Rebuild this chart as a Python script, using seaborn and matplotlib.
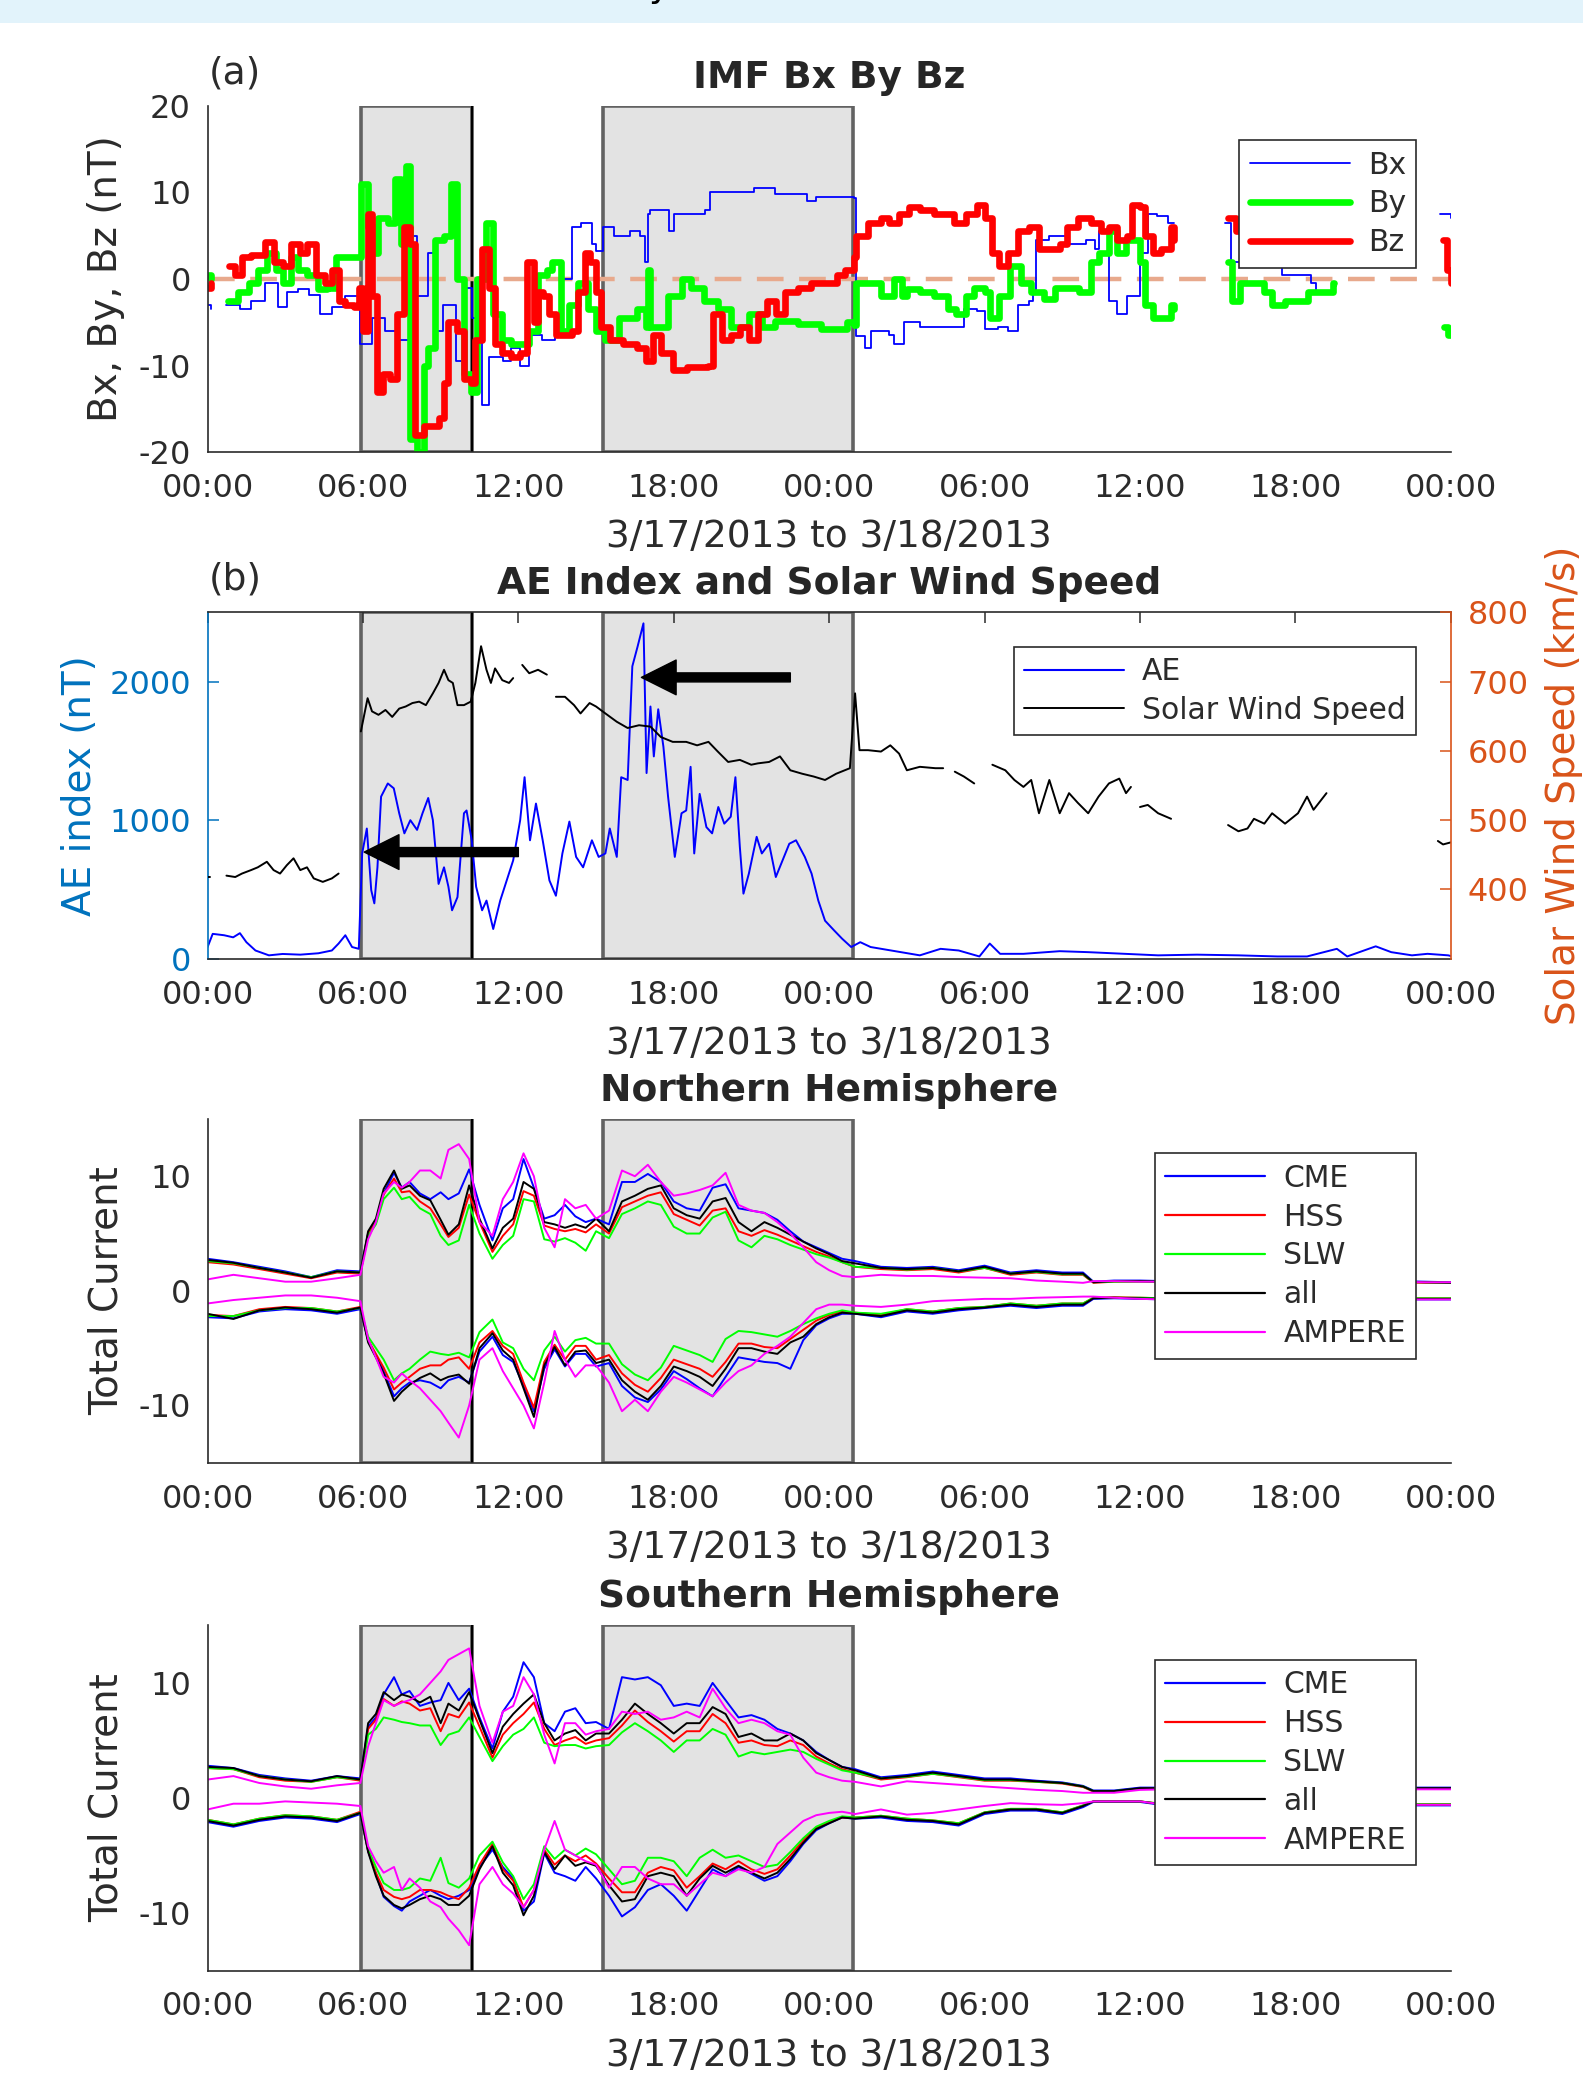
import numpy as np
import pandas as pd
import matplotlib
matplotlib.use("Agg")
import matplotlib.pyplot as plt
import seaborn as sns
from matplotlib.lines import Line2D
from matplotlib.patches import Rectangle

# time axis: hours since 3/17/2013 00:00
TICK_HOURS = [0, 6, 12, 18, 24, 30, 36, 42, 48]
TICK_LABELS = ["00:00", "06:00", "12:00", "18:00", "00:00", "06:00", "12:00", "18:00", "00:00"]
EVENT_WINDOWS = [(5.92, 10.22), (15.28, 24.92)]

# (a) IMF components (hour, nT); None marks a data gap
BX = [(0, -3.0), (0.12, -3.5), (0.3, None), (0.73, -3.0), (1.25, -3.5), (1.68, -2.5), (2.23, -0.5),
      (2.72, -3.2), (3.06, -1.5), (3.5, -1.2), (3.93, -1.8), (4.36, -4.0), (4.8, -3.2), (5.3, -2.0),
      (5.84, -3.0), (5.9, -7.5), (6.35, -4.5), (6.87, -6.0), (7.4, -7.0), (7.8, 5.0), (8.1, -2.0),
      (8.5, 3.0), (8.8, -6.0), (9.1, -3.0), (9.6, -9.5), (9.9, -1.0), (10.2, -4.5), (10.6, -14.5),
      (10.86, -9.0), (11.4, -9.5), (11.7, -8.0), (12.07, -10.0), (12.4, -6.5), (12.9, -7.0),
      (13.4, -6.5), (13.7, 0.0), (14.06, 6.0), (14.4, 6.5), (14.84, 4.0), (15.0, 3.2), (15.27, 6.0),
      (15.7, 5.0), (16.3, 5.5), (16.7, 5.0), (16.9, 2.0), (17.0, 7.5), (17.1, 8.0), (17.8, 5.5),
      (18.0, 7.5), (19.2, 8.0), (19.4, 10.0), (20.0, 10.0), (21.1, 10.5), (21.9, 9.8), (23.15, 9.0),
      (23.5, 9.5), (24.7, 9.5), (24.95, 9.3), (25.05, -6.6), (25.4, -8.0), (25.6, -6.0), (26.3, -6.5),
      (26.5, -7.5), (26.9, -5.0), (27.5, -5.5), (28.05, -5.5), (28.8, -5.5), (29.2, -3.5), (29.7, -3.7),
      (30.03, -5.8), (30.5, -5.5), (30.9, -6.0), (31.3, -3.0), (31.7, -2.5), (31.85, -1.5), (32.0, 4.5),
      (32.5, 5.0), (33.2, 4.0), (33.9, 4.5), (34.25, 3.5), (34.4, 5.5), (34.8, -2.5), (35.1, -4.0),
      (35.5, -2.0), (36.0, 3.0), (36.3, 7.5), (36.66, 7.3), (37.1, 6.5), (37.3, 6.5), (38.0, None),
      (39.3, 6.5), (39.5, 2.0), (40.5, 1.5), (41.5, 0.5), (42.2, 0.5), (42.6, -0.5), (42.8, -1.5),
      (43.2, -1.5), (43.4, -1.5), (45.0, None), (47.6, 7.5), (48.0, 7.0)]

BY = [(0, 0.5), (0.15, 0.0), (0.3, None), (0.8, -2.5), (1.16, -1.5), (1.6, -0.5), (1.94, 1.0), (2.3, 3.0),
      (2.63, 1.0), (2.9, -0.5), (3.24, 2.5), (3.5, 1.0), (3.84, 0.5), (4.28, -1.2), (4.62, -1.0),
      (4.97, 2.5), (5.66, 2.5), (5.92, 11.0), (6.18, 6.0), (6.44, 3.0), (6.6, 7.0), (6.96, 6.5),
      (7.22, 11.5), (7.48, 4.0), (7.65, 13.0), (7.83, -18.5), (8.09, -20.0), (8.35, -10.0), (8.52, -8.0),
      (8.78, 4.5), (9.13, 5.0), (9.39, 11.0), (9.65, 0.0), (9.9, -11.0), (10.16, -13.0), (10.42, 0.0),
      (10.77, 6.5), (11.03, -4.0), (11.38, -7.0), (11.72, -7.5), (12.07, -7.5), (12.42, -6.0),
      (12.76, 0.5), (13.1, 1.0), (13.28, 2.0), (13.63, -6.0), (13.97, -3.0), (14.32, -0.5), (14.67, -3.5),
      (15.0, -6.0), (15.36, -7.0), (15.88, -4.5), (16.57, -3.5), (16.92, -5.5), (17.0, 1.0), (17.1, -5.5),
      (17.26, -5.5), (17.78, -2.0), (18.3, 0.0), (18.65, -1.0), (19.17, -2.5), (19.7, -3.5), (20.2, -5.5),
      (20.9, -4.0), (21.4, -5.5), (21.9, -4.8), (22.8, -5.2), (23.7, -5.8), (24.7, -5.0), (24.95, -5.3),
      (25.05, -0.5), (25.5, -0.5), (26.0, -2.0), (26.5, 0.0), (26.8, -2.0), (27.0, -1.2), (27.5, -1.5),
      (28.05, -2.0), (28.6, -3.5), (28.9, -4.0), (29.3, -2.0), (29.6, -1.0), (30.0, -1.5), (30.2, -4.5),
      (30.55, -2.0), (31.0, 1.5), (31.4, -0.5), (31.8, -1.5), (32.3, -2.3), (32.7, -1.0), (33.2, -1.0),
      (33.65, -1.5), (34.1, 2.0), (34.4, 3.0), (34.8, 5.5), (35.1, 3.0), (35.45, 4.5), (36.0, 2.0),
      (36.2, -3.0), (36.5, -4.5), (36.8, -4.5), (37.2, -3.0), (37.3, -3.5), (38.0, None), (39.4, 2.0),
      (39.55, -2.5), (39.85, -0.5), (40.3, -0.5), (40.8, -1.5), (41.1, -3.0), (41.6, -2.5), (42.0, -2.5),
      (42.5, -1.5), (43.0, -1.5), (43.45, -0.5), (43.5, -0.5), (45.0, None), (47.75, -5.5), (47.9, -6.5),
      (48.0, -6.0)]

BZ = [(0, -1.0), (0.12, -0.5), (0.3, None), (0.81, 1.5), (1.07, 0.5), (1.33, 2.5), (1.68, 2.8), (2.2, 4.3),
      (2.55, 2.0), (2.9, 1.5), (3.24, 4.0), (3.58, 3.0), (3.84, 4.0), (4.19, 0.5), (4.54, -0.5), (4.8, 1.0),
      (5.06, -2.5), (5.32, -3.0), (5.66, -3.2), (5.84, -1.0), (6.0, -6.0), (6.18, 7.5), (6.35, -2.0),
      (6.53, -13.0), (6.79, -11.0), (7.05, -11.5), (7.3, -4.0), (7.57, 6.0), (7.83, 4.0), (8.0, -18.0),
      (8.35, -17.0), (8.7, -17.0), (8.95, -16.0), (9.13, -12.0), (9.3, -5.0), (9.65, -6.0), (9.9, -11.5),
      (10.16, -12.0), (10.34, -7.0), (10.6, 3.5), (10.86, -1.0), (11.1, -7.5), (11.38, -8.5),
      (11.72, -9.0), (12.07, -8.5), (12.33, 2.0), (12.6, -5.0), (12.76, -1.5), (12.94, -2.0), (13.2, -4.0),
      (13.45, -6.5), (13.8, -6.5), (14.06, -6.0), (14.32, -1.5), (14.58, 3.0), (14.75, 2.0), (15.0, -1.5),
      (15.19, -5.5), (15.53, -7.0), (16.05, -7.5), (16.57, -8.0), (16.92, -9.5), (17.18, -6.5),
      (17.5, -8.5), (17.96, -10.5), (18.5, -10.2), (19.0, -10.2), (19.34, -10.0), (19.5, -4.0),
      (19.86, -7.0), (20.2, -6.5), (20.55, -5.5), (20.9, -7.0), (21.25, -4.0), (21.6, -2.5), (21.94, -4.0),
      (22.3, -1.5), (22.8, -1.0), (23.3, -0.5), (23.9, -0.5), (24.3, 0.5), (24.6, 1.0), (24.95, 2.5),
      (25.05, 5.0), (25.2, 5.0), (25.5, 6.5), (26.0, 7.0), (26.3, 6.5), (26.7, 7.5), (27.1, 8.3),
      (27.5, 8.0), (28.05, 7.5), (28.4, 7.5), (28.8, 6.5), (29.3, 7.5), (29.7, 8.5), (30.03, 7.0),
      (30.3, 3.0), (30.55, 1.5), (30.9, 3.0), (31.3, 5.5), (31.7, 6.0), (32.1, 3.5), (32.45, 3.5),
      (32.9, 4.0), (33.2, 6.0), (33.6, 7.0), (34.1, 6.5), (34.5, 5.5), (34.8, 6.0), (35.1, 4.5),
      (35.5, 5.0), (35.7, 8.5), (36.0, 8.3), (36.2, 5.0), (36.5, 3.0), (36.8, 3.5), (37.2, 6.0),
      (37.3, 4.5), (38.0, None), (39.4, 7.0), (39.7, 5.5), (40.5, 6.0), (41.5, 6.5), (42.5, 6.0),
      (43.5, 5.5), (45.0, None), (47.7, 4.5), (47.85, 1.0), (48.0, -0.5)]

# (b) AE index (nT) and solar wind speed (km/s)
AE = [(0, 84), (0.2, 180), (0.64, 170), (0.99, 155), (1.25, 185), (1.5, 120), (1.85, 60), (2.37, 25),
      (2.9, 35), (3.58, 30), (4.28, 40), (4.8, 60), (5.06, 110), (5.32, 170), (5.58, 85), (5.84, 72),
      (5.97, 760), (6.15, 940), (6.32, 495), (6.44, 400), (6.56, 660), (6.7, 1170), (6.96, 1265),
      (7.19, 1230), (7.4, 1050), (7.6, 905), (7.83, 1000), (8.09, 930), (8.3, 1050), (8.52, 1160),
      (8.7, 1000), (8.92, 540), (9.13, 660), (9.3, 520), (9.44, 350), (9.65, 445), (9.9, 1050),
      (10.0, 1070), (10.2, 855), (10.37, 520), (10.6, 350), (10.77, 420), (11.03, 215), (11.3, 420),
      (11.55, 565), (11.8, 710), (12.07, 1000), (12.24, 1310), (12.45, 855), (12.68, 1120), (12.94, 855),
      (13.2, 565), (13.45, 455), (13.7, 760), (13.97, 990), (14.23, 735), (14.5, 660), (14.84, 855),
      (15.1, 735), (15.36, 760), (15.53, 940), (15.8, 735), (15.97, 1310), (16.22, 1290), (16.4, 2110),
      (16.6, 2250), (16.83, 2420), (16.95, 1340), (17.1, 1820), (17.23, 1460), (17.4, 1800), (17.6, 1530),
      (17.78, 1170), (18.04, 735), (18.3, 1050), (18.48, 1070), (18.65, 1385), (18.79, 760), (19.0, 1190),
      (19.26, 950), (19.48, 905), (19.72, 1095), (19.95, 975), (20.2, 1025), (20.38, 1310), (20.55, 810),
      (20.69, 470), (20.9, 615), (21.2, 880), (21.4, 760), (21.68, 830), (21.94, 590), (22.2, 710),
      (22.46, 830), (22.72, 855), (23.06, 735), (23.32, 615), (23.58, 420), (23.84, 275), (24.19, 205),
      (24.5, 145), (24.85, 85), (25.2, 120), (25.6, 85), (26.4, 60), (27.5, 25), (28.3, 72), (29.0, 60),
      (29.8, 17), (30.2, 110), (30.6, 36), (31.5, 36), (32.9, 55), (34.0, 48), (35.4, 36), (36.7, 25),
      (38.2, 30), (39.8, 25), (41.3, 17), (42.45, 17), (43.6, 72), (44.0, 17), (45.1, 90), (45.7, 48),
      (46.5, 25), (47.1, 36), (47.9, 25), (48.0, 20)]

SW_SPEED = [(0, 418), (0.1, 418), (0.4, None), (0.73, 420), (1.07, 418), (1.33, 423), (1.68, 428),
            (1.94, 432), (2.29, 440), (2.55, 428), (2.8, 423), (3.06, 435), (3.32, 445), (3.58, 428),
            (3.84, 432), (4.1, 416), (4.45, 411), (4.8, 416), (5.06, 423), (5.5, None), (5.92, 628),
            (6.18, 676), (6.35, 657), (6.6, 652), (6.87, 659), (7.13, 649), (7.4, 661), (7.65, 664),
            (7.91, 669), (8.17, 671), (8.43, 666), (8.7, 683), (8.92, 698), (9.13, 717), (9.3, 702),
            (9.47, 698), (9.65, 666), (9.9, 666), (10.16, 671), (10.34, 698), (10.56, 751), (10.77, 717),
            (10.94, 698), (11.1, 719), (11.38, 702), (11.64, 698), (11.8, 705), (11.9, None), (12.15, 724),
            (12.42, 712), (12.76, 717), (13.1, 710), (13.3, None), (13.45, 678), (13.8, 678), (14.15, 666),
            (14.4, 654), (14.75, 669), (15.0, 664), (15.36, 654), (15.8, 642), (16.22, 633), (16.66, 637),
            (17.1, 635), (17.5, 620), (17.96, 613), (18.48, 613), (18.9, 608), (19.34, 613), (19.7, 599),
            (20.1, 584), (20.55, 587), (20.99, 580), (21.25, 582), (21.68, 584), (22.1, 592), (22.5, 572),
            (22.96, 567), (23.4, 563), (23.84, 558), (24.27, 567), (24.8, 575), (25.0, 683), (25.17, 601),
            (25.5, 601), (26.0, 599), (26.36, 608), (26.7, 596), (27.0, 572), (27.5, 577), (28.1, 575),
            (28.4, 575), (28.6, None), (28.85, 570), (29.2, 563), (29.6, 553), (29.9, None), (30.3, 580),
            (30.8, 572), (31.15, 558), (31.5, 548), (31.8, 558), (32.1, 510), (32.5, 558), (32.9, 510),
            (33.26, 539), (33.6, 525), (34.0, 510), (34.4, 534), (34.8, 553), (35.2, 560), (35.46, 539),
            (35.65, 548), (35.8, None), (36.0, 519), (36.3, 522), (36.7, 510), (37.2, 502), (38.0, None),
            (39.4, 493), (39.8, 484), (40.15, 488), (40.4, 502), (40.8, 495), (41.1, 510), (41.6, 495),
            (42.1, 510), (42.45, 534), (42.7, 515), (43.2, 539), (45.0, None), (47.5, 470), (47.7, 465),
            (48.0, 468)]

# arrows in panel (b): (tail hour, AE), (head hour, AE)
ARROWS = [((12.0, 770), (6.05, 770)), ((22.5, 2030), (16.75, 2030))]

# (c), (d) total currents, common time grid (hours)
CUR_TIME = [0, 1, 2, 3, 4, 5, 5.9,
            6.2, 6.5, 6.8, 7.2, 7.5, 7.8, 8.2, 8.6, 9.0, 9.3, 9.7, 10.1, 10.5,
            11.0, 11.4, 11.8, 12.2, 12.6, 13.0, 13.4, 13.8, 14.2, 14.6, 15.0,
            15.5, 16.0, 16.5, 17.0, 17.5, 18.0, 18.5, 19.0, 19.5, 20.0,
            20.5, 21.0, 21.5, 22.0, 22.5, 23.0, 23.5, 24.0, 24.5, 25.0,
            26, 27, 28, 29, 30, 31, 32, 33, 33.8, 34.2, 35, 36,
            37, 38, 39, 40, 41, 42, 43, 44, 45, 46, 47, 48]

# Northern Hemisphere
N_CME_POS = [2.8, 2.5, 2.1, 1.7, 1.2, 1.8, 1.7,
             5.0, 6.0, 8.5, 10.3, 9.0, 9.5, 8.5, 8.0, 8.6, 8.0, 8.5, 10.6, 7.5,
             4.4, 7.2, 8.0, 11.5, 9.0, 6.3, 6.6, 7.5, 6.5, 6.0, 6.3,
             5.8, 9.5, 9.5, 10.2, 9.5, 7.8, 7.2, 7.0, 9.0, 9.3,
             7.2, 7.0, 6.8, 6.2, 5.2, 4.3, 3.8, 3.3, 2.8, 2.6,
             2.1, 2.0, 2.1, 1.8, 2.2, 1.6, 1.8, 1.6, 1.6, 0.8, 0.9, 0.9,
             0.85, 0.85, 0.85, 0.85, 0.85, 0.85, 0.85, 0.85, 0.85, 0.85, 0.8, 0.75]
N_HSS_POS = [2.5, 2.3, 1.9, 1.5, 1.1, 1.6, 1.5,
             5.0, 6.0, 8.4, 9.8, 8.6, 8.7, 7.8, 7.2, 5.8, 4.7, 5.5, 8.4, 6.0,
             3.4, 4.8, 5.8, 8.7, 8.3, 5.7, 5.4, 5.2, 5.4, 5.1, 5.8,
             5.0, 7.3, 7.8, 8.3, 8.6, 6.7, 6.2, 5.7, 7.0, 7.2,
             5.2, 4.8, 5.3, 4.9, 4.4, 3.9, 3.4, 3.0, 2.5, 2.1,
             1.9, 1.8, 1.9, 1.6, 2.0, 1.4, 1.6, 1.4, 1.4, 0.7, 0.8, 0.8,
             0.75, 0.75, 0.75, 0.75, 0.75, 0.75, 0.75, 0.75, 0.75, 0.75, 0.7, 0.7]
N_SLW_POS = [2.6, 2.4, 2.0, 1.6, 1.2, 1.7, 1.6,
             4.8, 5.8, 8.0, 9.0, 8.0, 8.2, 7.2, 6.7, 4.8, 4.0, 4.4, 7.5, 5.0,
             2.8, 4.0, 4.8, 8.0, 7.8, 4.5, 4.3, 4.6, 4.2, 3.5, 5.2,
             4.6, 6.7, 7.2, 7.8, 7.5, 5.6, 5.0, 5.0, 6.4, 6.9,
             4.4, 3.8, 4.8, 4.5, 4.0, 3.6, 3.2, 2.9, 2.5, 2.1,
             2.0, 1.85, 2.0, 1.7, 2.0, 1.5, 1.65, 1.45, 1.45, 0.75, 0.8, 0.8,
             0.8, 0.8, 0.8, 0.8, 0.8, 0.8, 0.8, 0.8, 0.8, 0.8, 0.75, 0.7]
N_ALL_POS = [2.7, 2.45, 2.0, 1.6, 1.15, 1.7, 1.6,
             5.2, 6.3, 8.9, 10.5, 8.9, 9.2, 8.3, 7.9, 6.2, 4.9, 5.8, 9.2, 6.3,
             3.7, 5.5, 6.3, 9.5, 8.9, 6.0, 5.8, 5.5, 5.8, 5.5, 6.3,
             5.2, 7.8, 8.3, 8.9, 9.2, 7.2, 6.6, 6.3, 7.8, 8.1,
             6.0, 5.2, 6.0, 5.5, 4.9, 4.3, 3.7, 3.2, 2.6, 2.4,
             2.0, 1.9, 2.0, 1.7, 2.1, 1.5, 1.7, 1.5, 1.5, 0.75, 0.85, 0.85,
             0.8, 0.8, 0.8, 0.8, 0.8, 0.8, 0.8, 0.8, 0.8, 0.8, 0.75, 0.7]
N_AMP_POS = [1.0, 1.4, 1.1, 0.8, 0.8, 1.1, 1.4,
             4.5, 6.0, 8.5, 9.5, 9.0, 9.5, 10.5, 10.5, 9.8, 12.3, 12.8, 11.5, 6.0,
             4.8, 8.0, 9.5, 12.0, 10.0, 5.5, 3.8, 8.0, 7.2, 7.5, 6.3,
             7.0, 10.5, 10.0, 11.0, 9.5, 8.3, 8.5, 8.8, 9.2, 10.3,
             7.5, 7.0, 6.8, 6.0, 5.0, 3.8, 2.5, 1.8, 1.3, 1.2,
             1.4, 1.3, 1.3, 1.2, 1.15, 1.1, 0.9, 0.8, 0.7, 0.85, 0.85, 0.8,
             0.8, 0.8, 0.8, 0.8, 0.8, 0.8, 0.8, 0.8, 0.8, 0.8, 0.75, 0.75]
N_CME_NEG = [-2.3, -2.4, -1.8, -1.6, -1.7, -2.0, -1.6,
             -4.3, -5.6, -7.0, -9.2, -8.5, -8.0, -7.8, -8.0, -8.5, -7.8, -7.5, -8.0, -5.3,
             -4.0, -5.6, -6.2, -8.3, -10.5, -6.8, -5.1, -6.6, -5.5, -5.5, -6.6,
             -6.3, -8.3, -9.3, -9.7, -8.6, -7.0, -7.7, -8.5, -9.2, -7.5,
             -5.8, -6.0, -6.2, -6.3, -6.8, -4.3, -3.0, -2.4, -2.0, -2.0,
             -2.3, -1.8, -2.0, -1.7, -1.5, -1.3, -1.5, -1.3, -1.3, -0.7, -0.65, -0.7,
             -0.75, -0.75, -0.75, -0.75, -0.75, -0.75, -0.75, -0.75, -0.75, -0.75, -0.75, -0.75]
N_HSS_NEG = [-2.1, -2.2, -1.6, -1.4, -1.5, -1.8, -1.4,
             -4.3, -5.5, -6.7, -8.6, -8.0, -7.5, -6.8, -6.5, -6.5, -6.0, -5.8, -6.8, -4.5,
             -3.5, -4.8, -5.5, -8.0, -10.2, -6.2, -4.7, -6.0, -4.8, -4.8, -6.0,
             -5.6, -7.2, -8.2, -8.8, -7.6, -6.0, -6.4, -6.8, -7.5, -6.2,
             -4.6, -4.6, -4.9, -5.0, -4.2, -3.4, -2.6, -2.1, -1.8, -1.9,
             -2.1, -1.6, -1.8, -1.5, -1.4, -1.1, -1.3, -1.1, -1.1, -0.6, -0.55, -0.6,
             -0.65, -0.65, -0.65, -0.65, -0.65, -0.65, -0.65, -0.65, -0.65, -0.65, -0.65, -0.65]
N_SLW_NEG = [-2.2, -2.2, -1.7, -1.5, -1.5, -1.8, -1.5,
             -4.0, -5.0, -6.0, -7.8, -7.2, -6.8, -6.0, -5.3, -5.5, -5.6, -5.4, -5.8, -3.6,
             -2.5, -4.5, -5.0, -6.8, -7.8, -5.2, -4.0, -5.3, -4.3, -4.1, -4.6,
             -4.6, -6.4, -7.3, -7.8, -6.7, -4.8, -5.2, -5.6, -6.2, -4.2,
             -3.5, -3.6, -3.8, -4.0, -3.5, -2.9, -2.4, -2.0, -1.7, -1.9,
             -2.0, -1.6, -1.8, -1.5, -1.4, -1.1, -1.3, -1.1, -1.1, -0.6, -0.6, -0.6,
             -0.65, -0.65, -0.65, -0.65, -0.65, -0.65, -0.65, -0.65, -0.65, -0.65, -0.65, -0.65]
N_ALL_NEG = [-2.0, -2.45, -1.7, -1.45, -1.6, -1.9, -1.45,
             -4.5, -5.8, -7.2, -9.6, -8.8, -8.2, -7.6, -7.2, -7.8, -7.5, -7.3, -8.1, -5.0,
             -3.7, -5.2, -6.0, -8.5, -11.0, -6.5, -4.9, -6.5, -5.3, -5.2, -6.3,
             -6.0, -7.8, -8.8, -9.5, -8.3, -6.6, -7.0, -7.5, -8.3, -6.8,
             -5.0, -5.0, -5.3, -5.5, -4.5, -4.0, -2.9, -2.3, -1.9, -2.0,
             -2.2, -1.7, -1.9, -1.6, -1.45, -1.2, -1.4, -1.2, -1.2, -0.65, -0.6, -0.65,
             -0.7, -0.7, -0.7, -0.7, -0.7, -0.7, -0.7, -0.7, -0.7, -0.7, -0.7, -0.7]
N_AMP_NEG = [-1.1, -0.8, -0.6, -0.4, -0.4, -0.6, -0.9,
             -4.2, -5.8, -7.5, -8.0, -7.2, -7.8, -8.5, -9.5, -10.5, -11.5, -12.8, -10.0, -6.0,
             -5.0, -7.0, -8.5, -10.0, -12.0, -8.0, -3.5, -6.0, -7.5, -6.5, -6.5,
             -8.0, -10.5, -9.5, -10.5, -8.8, -7.5, -8.0, -8.6, -9.2, -8.0,
             -7.0, -6.5, -5.5, -4.8, -4.0, -2.8, -1.6, -1.2, -1.2, -1.3,
             -1.4, -1.2, -0.9, -0.8, -0.7, -0.7, -0.6, -0.55, -0.5, -0.5, -0.6, -0.7,
             -0.75, -0.75, -0.75, -0.75, -0.75, -0.75, -0.75, -0.75, -0.75, -0.75, -0.75, -0.75]

# Southern Hemisphere
S_CME_POS = [2.8, 2.6, 2.0, 1.7, 1.5, 1.9, 1.7,
             6.2, 7.0, 9.0, 10.5, 9.0, 9.3, 8.0, 8.3, 8.5, 10.0, 8.5, 9.5, 7.0,
             4.3, 7.5, 8.8, 11.8, 10.5, 6.5, 5.8, 7.5, 7.8, 6.5, 6.6,
             6.0, 10.5, 10.3, 10.5, 9.8, 8.0, 8.2, 8.0, 10.0, 8.5,
             7.0, 7.2, 6.8, 6.0, 5.6, 5.0, 4.0, 3.3, 2.7, 2.5,
             1.8, 2.0, 2.3, 2.0, 1.7, 1.7, 1.5, 1.35, 1.05, 0.65, 0.65, 0.9,
             0.9, 0.9, 0.9, 0.9, 0.9, 0.9, 0.9, 0.9, 0.9, 0.9, 0.9, 0.9]
S_HSS_POS = [2.6, 2.5, 1.8, 1.5, 1.4, 1.8, 1.5,
             6.0, 6.8, 8.6, 8.0, 8.4, 8.2, 7.6, 7.8, 5.8, 7.3, 7.0, 8.3, 6.2,
             3.5, 5.5, 6.5, 7.3, 8.3, 6.0, 4.6, 5.0, 5.3, 4.7, 5.0,
             5.2, 6.3, 7.6, 6.6, 5.8, 4.9, 5.8, 5.8, 7.3, 6.5,
             4.8, 5.0, 4.6, 4.5, 5.0, 4.6, 3.6, 3.0, 2.5, 2.2,
             1.6, 1.8, 2.1, 1.8, 1.5, 1.5, 1.4, 1.25, 0.95, 0.55, 0.55, 0.8,
             0.8, 0.8, 0.8, 0.8, 0.8, 0.8, 0.8, 0.8, 0.8, 0.8, 0.8, 0.8]
S_SLW_POS = [2.6, 2.5, 1.9, 1.6, 1.4, 1.8, 1.6,
             5.5, 6.0, 7.0, 6.8, 6.6, 6.5, 6.3, 6.3, 4.6, 5.5, 5.8, 7.0, 5.3,
             3.2, 4.5, 5.5, 6.0, 7.0, 4.8, 4.5, 4.6, 4.6, 4.3, 4.5,
             4.6, 5.7, 6.5, 5.8, 5.0, 4.0, 5.0, 5.0, 6.0, 5.5,
             3.6, 4.0, 3.8, 4.0, 4.2, 4.0, 3.4, 2.9, 2.4, 2.2,
             1.7, 1.85, 2.1, 1.85, 1.55, 1.55, 1.4, 1.3, 1.0, 0.6, 0.6, 0.8,
             0.8, 0.8, 0.8, 0.8, 0.8, 0.8, 0.8, 0.8, 0.8, 0.8, 0.8, 0.8]
S_ALL_POS = [2.7, 2.6, 1.9, 1.6, 1.45, 1.9, 1.6,
             6.5, 7.3, 9.2, 8.5, 9.0, 8.8, 8.3, 8.8, 6.5, 8.2, 7.6, 9.2, 6.8,
             3.9, 6.2, 7.3, 8.2, 9.0, 6.5, 5.0, 5.6, 5.9, 5.0, 5.6,
             5.6, 6.8, 8.2, 7.3, 6.5, 5.6, 6.5, 6.5, 7.9, 7.3,
             5.3, 5.6, 5.0, 5.0, 5.6, 5.0, 3.9, 3.3, 2.7, 2.4,
             1.7, 1.9, 2.2, 1.9, 1.6, 1.6, 1.45, 1.3, 1.0, 0.6, 0.6, 0.85,
             0.85, 0.85, 0.85, 0.85, 0.85, 0.85, 0.85, 0.85, 0.85, 0.85, 0.85, 0.85]
S_AMP_POS = [1.6, 1.9, 1.3, 1.0, 0.8, 1.1, 1.3,
             4.5, 6.5, 8.5, 8.0, 8.3, 8.5, 9.0, 10.0, 11.0, 12.0, 12.5, 13.0, 8.0,
             4.8, 7.5, 8.0, 10.5, 9.0, 5.5, 3.0, 6.5, 6.5, 5.5, 5.8,
             6.0, 7.5, 7.3, 7.5, 6.8, 7.0, 7.5, 7.0, 9.5, 7.8,
             6.5, 6.8, 6.5, 5.8, 5.5, 3.5, 2.2, 1.8, 1.5, 1.4,
             1.0, 1.45, 1.3, 1.15, 1.0, 0.85, 0.7, 0.6, 0.45, 0.45, 0.45, 0.7,
             0.75, 0.75, 0.75, 0.75, 0.75, 0.75, 0.75, 0.75, 0.75, 0.75, 0.75, 0.75]
S_CME_NEG = [-2.1, -2.5, -2.0, -1.7, -1.8, -2.1, -1.4,
             -4.6, -6.6, -8.6, -9.4, -9.8, -9.0, -8.5, -8.0, -8.5, -8.8, -8.5, -8.0, -6.0,
             -4.5, -6.0, -7.0, -9.8, -9.0, -4.8, -6.5, -6.8, -7.2, -6.0, -7.0,
             -8.5, -10.3, -9.5, -8.0, -7.5, -8.5, -9.8, -8.0, -6.2, -6.8,
             -6.0, -6.6, -7.2, -6.8, -5.5, -4.0, -2.8, -2.2, -1.7, -1.8,
             -1.7, -2.0, -2.1, -2.4, -1.4, -1.1, -1.1, -1.4, -0.8, -0.35, -0.35, -0.35,
             -0.65, -0.65, -0.65, -0.65, -0.65, -0.65, -0.65, -0.65, -0.65, -0.65, -0.65, -0.65]
S_HSS_NEG = [-1.9, -2.3, -1.8, -1.5, -1.6, -1.9, -1.2,
             -4.6, -6.5, -8.0, -8.6, -8.8, -8.6, -8.0, -8.0, -8.2, -8.5, -8.8, -7.8, -5.8,
             -4.0, -6.2, -7.2, -9.5, -8.0, -4.5, -5.8, -5.0, -5.5, -5.0, -5.7,
             -7.0, -8.2, -8.2, -6.5, -6.0, -6.3, -7.8, -6.8, -5.7, -6.2,
             -5.5, -6.2, -6.6, -6.2, -5.0, -3.7, -2.6, -2.1, -1.7, -1.7,
             -1.55, -1.8, -1.95, -2.2, -1.25, -0.95, -0.95, -1.25, -0.65, -0.3, -0.3, -0.3,
             -0.55, -0.55, -0.55, -0.55, -0.55, -0.55, -0.55, -0.55, -0.55, -0.55, -0.55, -0.55]
S_SLW_NEG = [-1.9, -2.3, -1.8, -1.5, -1.6, -1.9, -1.3,
             -4.4, -6.0, -7.4, -8.0, -8.0, -7.8, -7.0, -7.2, -5.2, -7.4, -7.8, -7.0, -5.0,
             -3.8, -5.6, -6.8, -8.8, -7.5, -4.2, -5.3, -4.5, -5.0, -4.4, -4.9,
             -6.2, -7.5, -7.2, -5.2, -5.2, -5.5, -6.8, -5.2, -4.5, -5.2,
             -5.0, -5.5, -6.0, -5.8, -4.7, -3.5, -2.5, -2.0, -1.6, -1.7,
             -1.55, -1.8, -1.95, -2.2, -1.25, -0.95, -0.95, -1.25, -0.65, -0.3, -0.3, -0.3,
             -0.55, -0.55, -0.55, -0.55, -0.55, -0.55, -0.55, -0.55, -0.55, -0.55, -0.55, -0.55]
S_ALL_NEG = [-2.0, -2.4, -1.9, -1.6, -1.7, -2.0, -1.3,
             -4.7, -6.8, -8.5, -9.3, -9.6, -9.3, -8.8, -8.5, -8.8, -9.3, -9.3, -8.5, -6.2,
             -4.2, -6.5, -7.6, -10.2, -8.5, -4.7, -6.2, -5.0, -5.9, -5.6, -5.9,
             -7.6, -9.0, -8.8, -6.8, -6.5, -6.8, -8.5, -7.0, -5.9, -6.5,
             -5.9, -6.5, -7.0, -6.5, -5.3, -3.9, -2.7, -2.2, -1.7, -1.8,
             -1.6, -1.9, -2.0, -2.3, -1.3, -1.0, -1.0, -1.3, -0.7, -0.3, -0.3, -0.3,
             -0.6, -0.6, -0.6, -0.6, -0.6, -0.6, -0.6, -0.6, -0.6, -0.6, -0.6, -0.6]
S_AMP_NEG = [-1.0, -0.5, -0.5, -0.3, -0.4, -0.5, -0.7,
             -4.2, -5.5, -6.5, -6.0, -8.0, -7.0, -7.8, -9.0, -9.5, -10.5, -11.5, -12.8, -7.5,
             -6.0, -7.5, -8.3, -9.5, -8.0, -4.5, -2.0, -4.5, -5.0, -5.5, -5.8,
             -7.8, -6.0, -6.0, -7.0, -7.5, -7.5, -8.5, -7.5, -6.5, -6.8,
             -6.2, -6.5, -6.0, -4.0, -3.0, -2.0, -1.5, -1.3, -1.2, -1.4,
             -1.0, -1.45, -1.3, -1.0, -0.7, -0.45, -0.55, -0.6, -0.45, -0.3, -0.3, -0.3,
             -0.6, -0.6, -0.6, -0.6, -0.6, -0.6, -0.6, -0.6, -0.6, -0.6, -0.6, -0.6]

MODELS = ["CME", "HSS", "SLW", "all", "AMPERE"]
MODEL_COLORS = {"CME": "#0000ff", "HSS": "#ff0000", "SLW": "#00ff00", "all": "#000000", "AMPERE": "#ff00ff"}
NORTH = {"CME": (N_CME_POS, N_CME_NEG), "HSS": (N_HSS_POS, N_HSS_NEG), "SLW": (N_SLW_POS, N_SLW_NEG),
         "all": (N_ALL_POS, N_ALL_NEG), "AMPERE": (N_AMP_POS, N_AMP_NEG)}
SOUTH = {"CME": (S_CME_POS, S_CME_NEG), "HSS": (S_HSS_POS, S_HSS_NEG), "SLW": (S_SLW_POS, S_SLW_NEG),
         "all": (S_ALL_POS, S_ALL_NEG), "AMPERE": (S_AMP_POS, S_AMP_NEG)}

TXT = "#2b2b2b"
AE_BLUE = "#0072BD"
SW_ORANGE = "#D95319"
TICK_FS = 23
LABEL_FS = 27
YLABEL_FS = 28
TITLE_FS = 27
LEGEND_FS = 21.5

sns.set_style("white")
plt.rcParams["font.family"] = ["DejaVu Sans"]
plt.rcParams["axes.unicode_minus"] = False


def series_frame(pairs):
    df = pd.DataFrame(pairs, columns=["t", "v"]).astype(float)
    df["seg"] = df["v"].isna().cumsum()
    return df.dropna()


def draw_series(ax, pairs, color, lw, steps=True, z=2):
    kw = {"drawstyle": "steps-post"} if steps else {}
    sns.lineplot(data=series_frame(pairs), x="t", y="v", units="seg", estimator=None,
                 color=color, linewidth=lw, ax=ax, legend=False, zorder=z, **kw)


def shade_events(ax):
    for t0, t1 in EVENT_WINDOWS:
        ax.axvspan(t0, t1, facecolor="#e3e3e3", edgecolor="#626262", lw=2.6, zorder=0)
    ax.axvline(EVENT_WINDOWS[0][1], color="black", lw=1.6, zorder=0.5)


def style_time_axis(ax, box=False):
    ax.set_xlim(0, 48)
    ax.set_xticks(TICK_HOURS)
    ax.set_xticklabels(TICK_LABELS)
    ax.tick_params(axis="both", direction="in", length=8, width=1.1, labelsize=TICK_FS,
                   colors=TXT, pad=15)
    ax.tick_params(axis="y", pad=12)
    ax.tick_params(axis="x", top=box)
    ax.set_xlabel("3/17/2013 to 3/18/2013", fontsize=LABEL_FS, color=TXT, labelpad=11)
    for side in ["left", "bottom", "top", "right"]:
        ax.spines[side].set_color(TXT)
        ax.spines[side].set_linewidth(1.2)
    if not box:
        ax.spines["top"].set_visible(False)
        ax.spines["right"].set_visible(False)


def make_legend(ax, handles, labels, top):
    leg = ax.legend(handles, labels, loc="upper right", bbox_to_anchor=(0.9723, top),
                    borderaxespad=0, fontsize=LEGEND_FS, frameon=True, fancybox=False, framealpha=1,
                    edgecolor=TXT, handlelength=3.35, handletextpad=0.6, labelspacing=0.33,
                    borderpad=0.35)
    leg.get_frame().set_linewidth(1.2)
    for t in leg.get_texts():
        t.set_color(TXT)
    leg.set_zorder(10)
    return leg


fig = plt.figure(figsize=(15.83, 20.74), dpi=100)
fig.patches.append(Rectangle((0, 1 - 23 / 2074), 1, 23 / 2074, transform=fig.transFigure,
                             facecolor="#e2f3fb", edgecolor="none", zorder=0))
fig.text(660 / 1583, 1 + 3 / 2074, "y", fontsize=26, ha="center", va="baseline", color="black")

L, W = 0.1311, 0.7854

# ---------------- (a) IMF ----------------
ax_a = fig.add_axes([L, 0.7819, W, 0.1671])
shade_events(ax_a)
ax_a.axhline(0, color="#e8a98c", lw=3.2, dashes=(6, 3.5), zorder=1)
draw_series(ax_a, BX, "#0000ff", 1.3)
draw_series(ax_a, BY, "#00ff00", 4.8)
draw_series(ax_a, BZ, "#ff0000", 4.8)
style_time_axis(ax_a)
ax_a.set_ylim(-20, 20)
ax_a.set_yticks([-20, -10, 0, 10, 20])
ax_a.set_ylabel("Bx, By, Bz (nT)", fontsize=YLABEL_FS, color=TXT)
ax_a.yaxis.set_label_coords(-0.066, 0.5)
ax_a.set_title("IMF Bx By Bz", fontsize=TITLE_FS, fontweight="bold", pad=13)
ax_a.text(0.022, 1.094, "(a)", transform=ax_a.transAxes, fontsize=TITLE_FS, ha="center", va="center", color=TXT)
make_legend(ax_a,
            [Line2D([], [], color="#0000ff", lw=1.3), Line2D([], [], color="#00ff00", lw=4.8),
             Line2D([], [], color="#ff0000", lw=4.8)],
            ["Bx", "By", "Bz"], 0.901)

# ---------------- (b) AE and solar wind ----------------
ax_b = fig.add_axes([L, 0.5377, W, 0.1671])
shade_events(ax_b)
draw_series(ax_b, AE, "#0000ff", 1.4, steps=False)
style_time_axis(ax_b, box=True)
ax_b.set_ylim(0, 2500)
ax_b.set_yticks([0, 1000, 2000])
ax_b.tick_params(axis="y", colors=AE_BLUE)
ax_b.spines["left"].set_color(AE_BLUE)
ax_b.spines["right"].set_visible(False)
ax_b.set_ylabel("AE index (nT)", fontsize=YLABEL_FS, color=AE_BLUE)
ax_b.yaxis.set_label_coords(-0.087, 0.5)
ax_b.set_title("AE Index and Solar Wind Speed", fontsize=TITLE_FS, fontweight="bold", pad=13)
ax_b.text(0.022, 1.094, "(b)", transform=ax_b.transAxes, fontsize=TITLE_FS, ha="center", va="center", color=TXT)
for (t0, v0), (t1, v1) in ARROWS:
    ax_b.annotate("", xy=(t1, v1), xytext=(t0, v0),
                  arrowprops=dict(facecolor="black", edgecolor="black", width=6.5,
                                  headwidth=25, headlength=25, shrink=0), zorder=6)

ax_s = ax_b.twinx()
draw_series(ax_s, SW_SPEED, "black", 1.4, steps=False)
ax_s.set_xlim(0, 48)
ax_s.set_ylim(300, 800)
ax_s.set_yticks([400, 500, 600, 700, 800])
ax_s.tick_params(axis="y", direction="in", length=8, width=1.1, labelsize=TICK_FS, colors=SW_ORANGE, pad=12)
ax_s.spines["right"].set_color(SW_ORANGE)
ax_s.spines["right"].set_linewidth(1.2)
ax_s.spines["left"].set_visible(False)
ax_s.spines["top"].set_visible(False)
ax_s.spines["bottom"].set_visible(False)
ax_s.set_xlabel("")
ax_s.set_ylabel("Solar Wind Speed (km/s)", fontsize=YLABEL_FS, color=SW_ORANGE)
ax_s.yaxis.set_label_coords(1.076, 0.5)
make_legend(ax_s, [Line2D([], [], color="#0000ff", lw=1.5), Line2D([], [], color="black", lw=1.4)],
            ["AE", "Solar Wind Speed"], 0.901)


# ---------------- (c), (d) currents ----------------
def current_frame(hemi):
    rows = []
    for model in MODELS:
        pos, neg = hemi[model]
        for sign, vals in (("pos", pos), ("neg", neg)):
            rows.append(pd.DataFrame({"t": CUR_TIME, "v": vals, "model": model, "sign": sign}))
    return pd.concat(rows, ignore_index=True)


def current_panel(rect, hemi, title):
    ax = fig.add_axes(rect)
    shade_events(ax)
    sns.lineplot(data=current_frame(hemi), x="t", y="v", hue="model", hue_order=MODELS,
                 units="sign", estimator=None, palette=MODEL_COLORS, linewidth=1.4,
                 ax=ax, legend=False, zorder=2)
    style_time_axis(ax)
    ax.set_ylim(-15, 15)
    ax.set_yticks([-10, 0, 10])
    ax.set_ylabel("Total Current", fontsize=YLABEL_FS, color=TXT)
    ax.yaxis.set_label_coords(-0.066, 0.5)
    ax.set_title(title, fontsize=TITLE_FS, fontweight="bold", pad=13)
    make_legend(ax, [Line2D([], [], color=MODEL_COLORS[m], lw=1.6) for m in MODELS], MODELS, 0.90)
    return ax


current_panel([L, 0.2947, W, 0.1658], NORTH, "Northern Hemisphere")
current_panel([L, 0.0499, W, 0.1664], SOUTH, "Southern Hemisphere")

fig.savefig("out.png", dpi=100)
